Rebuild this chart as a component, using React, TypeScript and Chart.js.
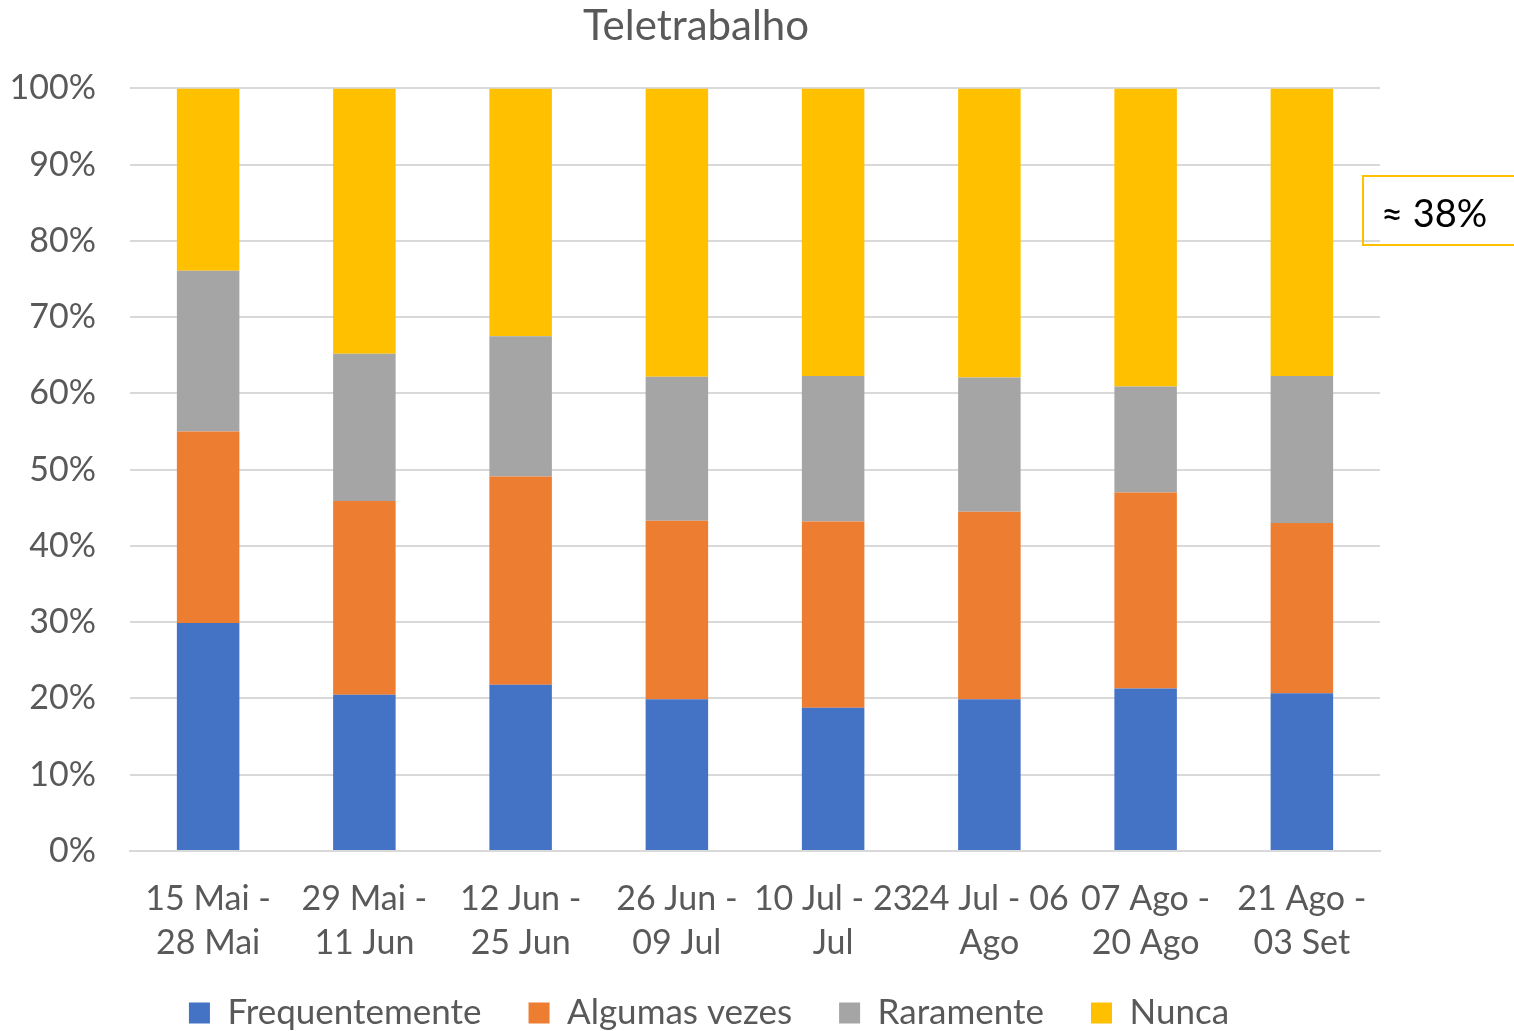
import React, { useEffect, useRef } from "react";
import { Chart, registerables } from "chart.js";

Chart.register(...registerables);

const categories: string[][] = [
  ["15 Mai -", "28 Mai"],
  ["29 Mai -", "11 Jun"],
  ["12 Jun -", "25 Jun"],
  ["26 Jun -", "09 Jul"],
  ["10 Jul - 23", "Jul"],
  ["24 Jul - 06", "Ago"],
  ["07 Ago -", "20 Ago"],
  ["21 Ago -", "03 Set"],
];

const frequentemente = [29.9, 20.5, 21.8, 19.9, 18.8, 19.9, 21.3, 20.7];
const algumasVezes = [25.1, 25.4, 27.3, 23.4, 24.4, 24.6, 25.7, 22.3];
const raramente = [21.1, 19.3, 18.4, 18.9, 19.1, 17.6, 13.9, 19.3];
const nunca = [23.9, 34.8, 32.5, 37.8, 37.7, 37.9, 39.1, 37.7];

const FONT = "Lato, 'Open Sans', sans-serif";

const legendShift = {
  id: "legendShift",
  afterLayout(chart: any) {
    const lg = chart.legend;
    if (lg) {
      lg.top -= 22.5;
      lg.bottom -= 22.5;
      lg.left += 13;
      lg.right += 13;
    }
  },
};

export default function App() {
  const ref = useRef<HTMLCanvasElement | null>(null);

  useEffect(() => {
    if (!ref.current) return;
    const mk = (label: string, data: number[], color: string) => ({
      label,
      data,
      backgroundColor: color,
      borderWidth: 0,
      barPercentage: 0.4,
      categoryPercentage: 1,
    });
    const chart = new Chart(ref.current, {
      type: "bar",
      data: {
        labels: categories,
        datasets: [
          mk("Frequentemente", frequentemente, "#4472C4"),
          mk("Algumas vezes", algumasVezes, "#ED7D31"),
          mk("Raramente", raramente, "#A5A5A5"),
          mk("Nunca", nunca, "#FFC000"),
        ],
      },
      plugins: [legendShift],
      options: {
        animation: false,
        responsive: false,
        maintainAspectRatio: false,
        layout: { padding: { left: 12, right: 134, top: 0, bottom: 0 } },
        plugins: {
          title: {
            display: true,
            text: "Teletrabalho",
            color: "#595959",
            font: { family: FONT, size: 42, weight: "normal", lineHeight: 1.2 },
            padding: { top: 1, bottom: 37 },
          },
          legend: {
            position: "bottom",
            labels: {
              color: "#595959",
              font: { family: FONT, size: 35 },
              boxWidth: 21,
              boxHeight: 21,
              padding: 47,
            },
          },
          tooltip: { enabled: false },
        },
        scales: {
          x: {
            stacked: true,
            grid: { display: false, drawTicks: false },
            border: { display: true, color: "#D9D9D9", width: 2 },
            afterFit: (scale: any) => {
              scale.height = 120;
            },
            ticks: {
              color: "#595959",
              font: { family: FONT, size: 34, lineHeight: 1.3 },
              padding: 26,
              maxRotation: 0,
              autoSkip: false,
            },
          },
          y: {
            stacked: true,
            min: 0,
            max: 100,
            grid: { color: "#D9D9D9", lineWidth: 2, drawTicks: false },
            border: { display: false },
            afterFit: (scale: any) => {
              scale.width = 118;
            },
            ticks: {
              stepSize: 10,
              color: "#595959",
              font: { family: FONT, size: 34 },
              padding: 34,
              callback: (v: any) => v + "%",
            },
          },
        },
      },
    });
    return () => chart.destroy();
  }, []);

  return (
    <div
      style={{
        position: "absolute",
        left: 0,
        top: 0,
        width: 1514,
        height: 1031,
        overflow: "hidden",
        background: "#fff",
      }}
    >
      <canvas ref={ref} width={1514} height={1063} style={{ display: "block" }} />
      <div
        style={{
          position: "absolute",
          left: 1362,
          top: 175,
          width: 180,
          height: 71,
          border: "2px solid #FFC000",
          boxSizing: "border-box",
          fontFamily: FONT,
          fontSize: 38,
          color: "#000",
          lineHeight: "70px",
          paddingLeft: 17,
          whiteSpace: "nowrap",
        }}
      >
        ≈ 38%
      </div>
    </div>
  );
}
